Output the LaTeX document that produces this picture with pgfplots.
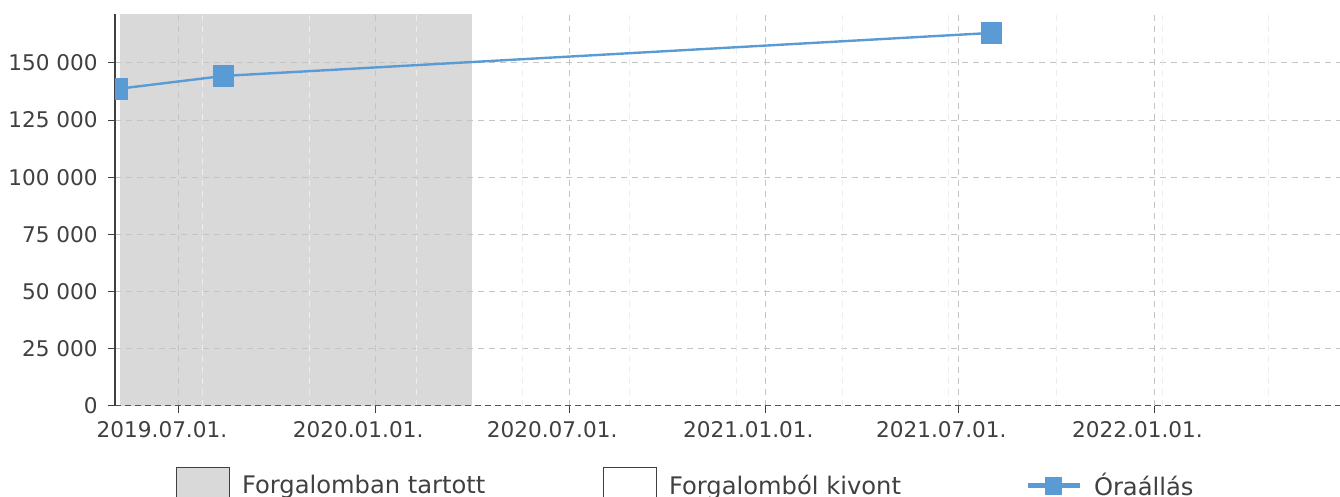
\documentclass[border=0pt]{standalone}
\usepackage{fontspec}
\setmainfont{DejaVu Sans}
\usepackage{pgfplots}
\pgfplotsset{compat=1.18}
\definecolor{txt}{HTML}{404040}
\definecolor{areagray}{HTML}{D9D9D9}
\definecolor{lineblue}{HTML}{5B9BD5}
\definecolor{gridc}{HTML}{C4C4C4}
\definecolor{minorc}{HTML}{EDEDED}
\pgfplotsset{
  boxlegend/.style={legend image code/.code={\draw[##1] (0pt,-9pt) rectangle (26.5pt,9pt);}},
  linelegend/.style={legend image code/.code={%
    \draw[##1, line width=2.5pt] (0pt,0pt) -- (26pt,0pt);
    \draw[##1, mark size=3.75pt] plot coordinates {(13pt,0pt)};}},
}
\begin{document}
\begin{tikzpicture}
\begin{axis}[
  set layers,
  at={(57.5pt,45.5pt)}, anchor=south west,
  scale only axis, width=612.5pt, height=196pt,
  xmin=-60, xmax=1089, ymin=0, ymax=171400,
  scaled y ticks=false, scaled x ticks=false,
  clip marker paths=true,
  axis x line*=bottom, axis y line*=left,
  x axis line style={draw=none},
  y axis line style={draw=txt, line width=0.7pt},
  xtick={0,184,366,550,731,915},
  xticklabels={2019.07.01.,2020.01.01.,2020.07.01.,2021.01.01.,2021.07.01.,2022.01.01.},
  ytick={25000,50000,75000,100000,125000,150000},
  yticklabels={25 000,50 000,75 000,100 000,125 000,150 000},
  extra y ticks={0}, extra y tick labels={0},
  extra y tick style={grid=major, major grid style={draw=txt!90, dash pattern=on 3pt off 2pt, line width=0.5pt}},
  extra x ticks={22.5,122.8,223,322.6,422.9,523,622.6,722,823,922.6,1022},
  extra x tick labels={},
  extra x tick style={grid=major, major tick length=0pt, major grid style={draw=minorc, dash pattern=on 3pt off 2.5pt, line width=0.5pt}},
  grid=major,
  major grid style={draw=gridc, dash pattern=on 3pt off 2.5pt, line width=0.5pt},
  tick align=outside, major tick length=3.5pt,
  tick style={draw=txt, line width=0.5pt},
  xtick pos=bottom, ytick pos=left,
  ticklabel style={font=\fontsize{10.8}{13}\selectfont, text=txt},
  yticklabel style={anchor=east, inner sep=0pt, xshift=-5pt},
  xticklabel style={anchor=north, inner sep=0pt, xshift=-8.5pt, yshift=-4pt},
  legend style={at={(0.0498,-0.204)}, anchor=west, draw=none, fill=none,
    inner sep=0pt, outer sep=0pt,
    nodes={inner sep=0pt, text=txt, font=\fontsize{12.1}{14}\selectfont},
    legend columns=3,
    /tikz/every odd column/.style={column sep=6pt}},
  legend cell align=left,
]
\addplot[fill=areagray, draw=none, forget plot, on layer=axis background]
  coordinates {(-55,171400) (275,171400)} \closedcycle;
\addlegendimage{area legend, fill=areagray, draw=txt, line width=0.5pt, boxlegend}
\addlegendentry{\makebox[180.5pt][l]{Forgalomban tartott}}
\addlegendimage{area legend, fill=white, draw=txt, line width=0.5pt, boxlegend}
\addlegendentry{\makebox[178pt][l]{Forgalomból kivont}}
\addplot[color=lineblue, line width=1.2pt, mark=square*, mark size=4.75pt, linelegend]
  coordinates {(-58,138630) (42,144315) (762,163120)};
\addlegendentry{Óraállás}
\end{axis}
\pgfresetboundingbox
\useasboundingbox (0,0) rectangle (670pt,248.5pt);
\end{tikzpicture}
\end{document}
